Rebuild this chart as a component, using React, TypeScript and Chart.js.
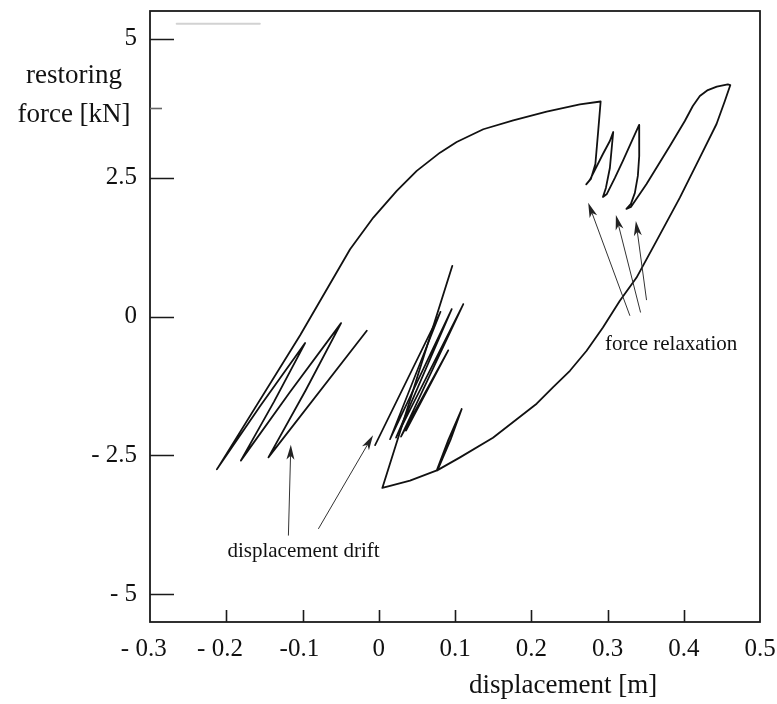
import React, { useEffect, useRef } from 'react';
import { Chart, registerables } from 'chart.js';

Chart.register(...registerables);

// ---- axes / ticks ----
const xTickValues = [-0.3, -0.2, -0.1, 0, 0.1, 0.2, 0.3, 0.4, 0.5];
const xTickLabels = ['- 0.3  ', '- 0.2  ', '-0.1 ', '0', '0.1', '0.2', '0.3', '0.4', '0.5'];
const yTickValues = [-5, -2.5, 0, 2.5, 5];
const yTickLabels = ['- 5', '- 2.5', '0', '2.5', '5'];
const yMinorTickValues = [3.75];

// ---- main hysteresis path (displacement [m], restoring force [kN]) ----
const loopX = [
  -0.0157, -0.1447, -0.0958, -0.0494, -0.1164, -0.1809, -0.1375, -0.0966, -0.1557, -0.2123,
  -0.1031, -0.0376, -0.0071, 0.0236, 0.0498, 0.0803, 0.1022, 0.1371, 0.1764, 0.2202,
  0.2638, 0.291, 0.2878, 0.2841, 0.2782, 0.2721, 0.2769, 0.294, 0.3031, 0.3075,
  0.3064, 0.3031, 0.2979, 0.294, 0.2992, 0.3097, 0.3202, 0.332, 0.3415, 0.3418,
  0.3414, 0.3398, 0.3359, 0.3307, 0.3248, 0.3307, 0.3512, 0.3818, 0.4014, 0.4119,
  0.4211, 0.4316, 0.4434, 0.4578, 0.4611, 0.4539, 0.443, 0.4211, 0.3949, 0.3643,
  0.3381, 0.3162, 0.294, 0.2726, 0.2507, 0.2284, 0.2071, 0.1852, 0.1498, 0.1066,
  0.076, 0.0913, 0.1088, 0.0942, 0.0771, 0.041, 0.0161, 0.0047, 0.0965,
];
const loopY = [
  -0.257, -2.536, -1.327, -0.119, -1.358, -2.595, -1.538, -0.478, -1.615, -2.752,
  -0.338, 1.212, 1.781, 2.261, 2.621, 2.95, 3.142, 3.371, 3.532, 3.687,
  3.82, 3.871, 3.34, 2.746, 2.477, 2.378, 2.459, 2.926, 3.16, 3.322,
  3.16, 2.674, 2.315, 2.153, 2.207, 2.495, 2.8, 3.16, 3.448, 3.25,
  2.89, 2.531, 2.225, 2.027, 1.937, 1.973, 2.387, 3.07, 3.52, 3.79,
  3.97, 4.077, 4.14, 4.18, 4.167, 3.88, 3.466, 2.86, 2.14, 1.362,
  0.701, 0.282, -0.198, -0.617, -0.977, -1.277, -1.57, -1.804, -2.182, -2.536,
  -2.775, -2.221, -1.665, -2.218, -2.766, -2.955, -3.045, -3.086, 0.912,
];

// ---- displacement-drift bundle ----
const driftX = [-0.0048, 0.081, 0.0148, 0.0957, 0.0227, 0.1109, 0.0292, 0.0912, 0.0358];
const driftY = [-2.317, 0.085, -2.209, 0.133, -2.182, 0.223, -2.164, -0.608, -2.056];

// ---- faint scan mark at the top-left ----
const scanMarkX = [-0.265, -0.156];
const scanMarkY = [5.27, 5.27];

// ---- annotation arrows ----
const arrowTailX = [0.3294, 0.3434, 0.3512, -0.1185, -0.0792];
const arrowTailY = [0.013, 0.072, 0.295, -3.944, -3.824];
const arrowTipX = [0.2747, 0.311, 0.3372, -0.1153, -0.0075];
const arrowTipY = [2.05, 1.829, 1.721, -2.307, -2.137];

// ---- annotation texts ----
const noteTexts = ['force relaxation', 'displacement drift'];
const noteX = [0.2966, -0.1985];
const noteY = [-0.604, -4.335];

const xTitle = 'displacement [m]';
const xTitleCenter = 0.2418;
const yTitleLines = ['restoring', 'force [kN]'];
const yTitleLineValues = [4.212, 3.493];

const SERIF = "'Liberation Serif', 'Times New Roman', serif";
const INK = '#111111';

const toPoints = (xs: number[], ys: number[]) => xs.map((v, i) => ({ x: v, y: ys[i] }));

const decorPlugin = {
  id: 'decor',
  afterDatasetsDraw(chart: any) {
    const { ctx, chartArea: a, scales } = chart;
    const xs = scales.x;
    const ys = scales.y;
    ctx.save();

    // frame
    ctx.strokeStyle = '#1a1a1a';
    ctx.lineWidth = 1.8;
    ctx.strokeRect(a.left, a.top, a.right - a.left, a.bottom - a.top);

    // inner ticks on x
    ctx.lineWidth = 1.6;
    ctx.beginPath();
    xTickValues.forEach((v) => {
      if (v <= xs.min + 1e-9 || v >= xs.max - 1e-9) return;
      const px = Math.round(xs.getPixelForValue(v)) + 0.5;
      ctx.moveTo(px, a.bottom);
      ctx.lineTo(px, a.bottom - 12);
    });
    ctx.stroke();

    // inner ticks on y
    ctx.beginPath();
    yTickValues.forEach((v) => {
      const py = Math.round(ys.getPixelForValue(v)) + 0.5;
      ctx.moveTo(a.left, py);
      ctx.lineTo(a.left + 24, py);
    });
    ctx.stroke();
    ctx.strokeStyle = '#666666';
    ctx.beginPath();
    yMinorTickValues.forEach((v) => {
      const py = Math.round(ys.getPixelForValue(v)) + 0.5;
      ctx.moveTo(a.left, py);
      ctx.lineTo(a.left + 12, py);
    });
    ctx.stroke();

    // arrows
    ctx.strokeStyle = '#333333';
    ctx.fillStyle = '#222222';
    ctx.lineWidth = 1;
    arrowTailX.forEach((tx, i) => {
      const x0 = xs.getPixelForValue(tx);
      const y0 = ys.getPixelForValue(arrowTailY[i]);
      const x1 = xs.getPixelForValue(arrowTipX[i]);
      const y1 = ys.getPixelForValue(arrowTipY[i]);
      const ang = Math.atan2(y1 - y0, x1 - x0);
      const len = 15;
      const half = 4;
      const bx = x1 - Math.cos(ang) * len;
      const by = y1 - Math.sin(ang) * len;
      ctx.beginPath();
      ctx.moveTo(x0, y0);
      ctx.lineTo(bx + Math.cos(ang) * 4, by + Math.sin(ang) * 4);
      ctx.stroke();
      ctx.beginPath();
      ctx.moveTo(x1, y1);
      ctx.lineTo(bx - Math.sin(ang) * half, by + Math.cos(ang) * half);
      ctx.lineTo(bx + Math.cos(ang) * 4, by + Math.sin(ang) * 4);
      ctx.lineTo(bx + Math.sin(ang) * half, by - Math.cos(ang) * half);
      ctx.closePath();
      ctx.fill();
    });

    // annotation texts
    ctx.fillStyle = INK;
    ctx.font = `21px ${SERIF}`;
    ctx.textAlign = 'left';
    ctx.textBaseline = 'alphabetic';
    noteTexts.forEach((t, i) => {
      ctx.fillText(t, xs.getPixelForValue(noteX[i]), ys.getPixelForValue(noteY[i]));
    });

    // axis titles
    ctx.font = `27px ${SERIF}`;
    ctx.textAlign = 'center';
    yTitleLines.forEach((t, i) => {
      ctx.fillText(t, a.left - 76, ys.getPixelForValue(yTitleLineValues[i]));
    });
    ctx.fillText(xTitle, xs.getPixelForValue(xTitleCenter), a.bottom + 71);

    ctx.restore();
  },
};

export default function App() {
  const canvasRef = useRef<HTMLCanvasElement | null>(null);

  useEffect(() => {
    const canvas = canvasRef.current;
    if (!canvas) return;
    const lineStyle = {
      showLine: true,
      pointRadius: 0,
      pointHoverRadius: 0,
      tension: 0,
      borderJoinStyle: 'round' as const,
      borderCapStyle: 'round' as const,
      fill: false,
    };
    const chart = new Chart(canvas, {
      type: 'scatter',
      data: {
        datasets: [
          { ...lineStyle, label: 'scan', data: toPoints(scanMarkX, scanMarkY), borderColor: '#d2d2d2', borderWidth: 2 },
          { ...lineStyle, label: 'hysteresis', data: toPoints(loopX, loopY), borderColor: INK, borderWidth: 1.8 },
          { ...lineStyle, label: 'drift', data: toPoints(driftX, driftY), borderColor: INK, borderWidth: 1.7 },
        ],
      },
      options: {
        animation: false,
        responsive: false,
        devicePixelRatio: 1,
        layout: { padding: { top: 11, right: 17, left: 0, bottom: 0 } },
        plugins: { legend: { display: false }, tooltip: { enabled: false } },
        events: [],
        scales: {
          x: {
            type: 'linear',
            min: -0.3,
            max: 0.5,
            grid: { display: false, drawTicks: false },
            border: { display: false },
            afterBuildTicks: (s: any) => {
              s.ticks = xTickValues.map((v) => ({ value: v }));
            },
            afterFit: (s: any) => {
              s.height = 82;
              s.paddingLeft = 0;
              s.paddingRight = 0;
            },
            ticks: {
              autoSkip: false,
              maxRotation: 0,
              minRotation: 0,
              padding: 12,
              color: INK,
              font: { family: SERIF, size: 25 },
              callback: (_v: any, i: number) => xTickLabels[i],
            },
          },
          y: {
            type: 'linear',
            min: -5.5,
            max: 5.5,
            grid: { display: false, drawTicks: false },
            border: { display: false },
            afterBuildTicks: (s: any) => {
              s.ticks = yTickValues.map((v) => ({ value: v }));
            },
            afterFit: (s: any) => {
              s.width = 150;
              s.paddingTop = 0;
              s.paddingBottom = 0;
            },
            ticks: {
              autoSkip: false,
              padding: 13,
              color: INK,
              font: { family: SERIF, size: 25 },
              callback: (_v: any, i: number) => yTickLabels[i],
            },
          },
        },
      },
      plugins: [decorPlugin],
    });
    return () => chart.destroy();
  }, []);

  return (
    <div style={{ position: 'absolute', left: 0, top: 0, width: 777, height: 704, background: '#ffffff' }}>
      <canvas ref={canvasRef} width={777} height={704} style={{ display: 'block', width: 777, height: 704 }} />
    </div>
  );
}
